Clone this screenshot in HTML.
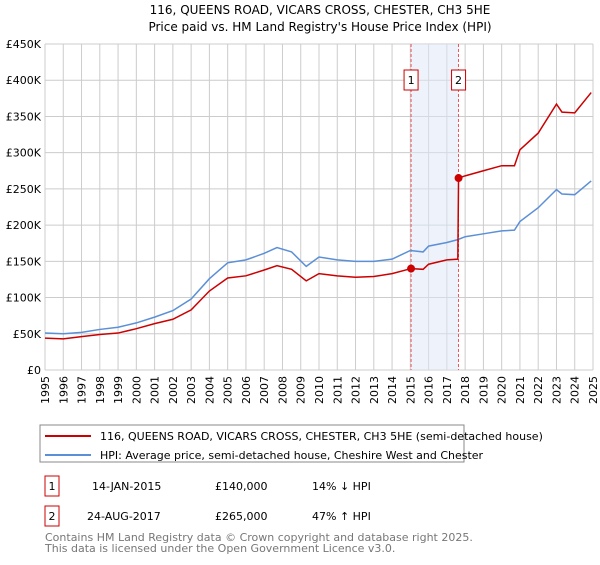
<!DOCTYPE html>
<html><head><meta charset="utf-8"><style>
body{margin:0;background:#fff;font-family:"Liberation Sans","DejaVu Sans",sans-serif}
svg text{font-family:"DejaVu Sans","Liberation Sans",sans-serif}
</style></head><body>
<svg id="c" width="600" height="560" xmlns="http://www.w3.org/2000/svg">
<text x="320" y="14" text-anchor="middle" font-size="12" fill="#000">116, QUEENS ROAD, VICARS CROSS, CHESTER, CH3 5HE</text>
<text x="320" y="31" text-anchor="middle" font-size="12" fill="#000">Price paid vs. HM Land Registry's House Price Index (HPI)</text>
<g id="grid"></g><g id="marks"></g><g id="axes"></g>
<rect x="40" y="425" width="424" height="37" fill="#fff" stroke="#888"/>
<line x1="45" y1="436" x2="91" y2="436" stroke="#cc0000" stroke-width="2"/>
<text x="100" y="440" font-size="11">116, QUEENS ROAD, VICARS CROSS, CHESTER, CH3 5HE (semi-detached house)</text>
<line x1="45" y1="455" x2="91" y2="455" stroke="#5b8fd6" stroke-width="2"/>
<text x="100" y="459" font-size="11">HPI: Average price, semi-detached house, Cheshire West and Chester</text>
<rect x="45" y="476" width="14" height="20" fill="#fff" stroke="#cc0000"/>
<text x="52" y="490" font-size="11" text-anchor="middle">1</text>
<text x="92" y="490" font-size="11">14-JAN-2015</text>
<text x="215" y="490" font-size="11">£140,000</text>
<text x="312" y="490" font-size="11">14% ↓ HPI</text>
<rect x="45" y="506" width="14" height="20" fill="#fff" stroke="#cc0000"/>
<text x="52" y="520" font-size="11" text-anchor="middle">2</text>
<text x="87" y="520" font-size="11">24-AUG-2017</text>
<text x="215" y="520" font-size="11">£265,000</text>
<text x="312" y="520" font-size="11">47% ↑ HPI</text>
<text x="45" y="541" font-size="11" fill="#777">Contains HM Land Registry data © Crown copyright and database right 2025.</text>
<text x="45" y="552" font-size="11" fill="#777">This data is licensed under the Open Government Licence v3.0.</text>
</svg>
<script>
const hpiYears=[1995,1996,1997,1998,1999,2000,2001,2002,2003,2004,2005,2006,2007,2007.7,2008.5,2009.3,2010,2011,2012,2013,2014,2015,2015.7,2016,2017,2017.6,2018,2019,2020,2020.7,2021,2022,2023,2023.3,2024,2024.9];
const hpiValues=[51,50,52,56,59,65,73,82,98,126,148,152,161,169,163,143,156,152,150,150,153,165,163,171,176,180,184,188,192,193,205,224,249,243,242,261];
const propYears=[1995,1996,1997,1998,1999,2000,2001,2002,2003,2004,2005,2006,2007,2007.7,2008.5,2009.3,2010,2011,2012,2013,2014,2015.04,2015.7,2016,2017,2017.6,2017.64,2018,2019,2020,2020.7,2021,2022,2023,2023.3,2024,2024.9];
const propValues=[44,43,46,49,51,57,64,70,83,109,127,130,138,144,139,123,133,130,128,129,133,140,139,146,152,153,265,268,275,282,282,304,327,367,356,355,383];
const saleYears=[2015.04,2017.64];
const saleValues=[140,265];
const saleLabels=["1","2"];
const yTicks=[0,50,100,150,200,250,300,350,400,450];
const yTickLabels=["£0","£50K","£100K","£150K","£200K","£250K","£300K","£350K","£400K","£450K"];
const xTicks=[1995,1996,1997,1998,1999,2000,2001,2002,2003,2004,2005,2006,2007,2008,2009,2010,2011,2012,2013,2014,2015,2016,2017,2018,2019,2020,2021,2022,2023,2024,2025];
const NS="http://www.w3.org/2000/svg";
const X0=45,X1=593,Y0=370,Y1=44;
const xs=v=>X0+(v-1995)/30*(X1-X0);
const ys=v=>Y0-(v/450)*(Y0-Y1);
function mk(t,a,p){const e=document.createElementNS(NS,t);for(const k in a)e.setAttribute(k,a[k]);p.appendChild(e);return e;}
const grid=document.getElementById('grid'),marks=document.getElementById('marks'),axes=document.getElementById('axes');
yTicks.forEach((v,i)=>{
 const l=mk('line',{x1:X0,x2:X1,y1:ys(v),y2:ys(v),stroke:'#ccc'},grid);
 
 
 const t=mk('text',{x:X0-4,y:ys(v)+4,'text-anchor':'end','font-size':11},axes);
 t.textContent=yTickLabels[i];
 
 
});
xTicks.forEach(v=>{
 const l=mk('line',{x1:xs(v),x2:xs(v),y1:Y1,y2:Y0,stroke:'#ccc'},grid);
 
 
 const t=mk('text',{x:0,y:0,'text-anchor':'end','font-size':11,transform:`translate(${xs(v)+4},${Y0+6}) rotate(-90)`},axes);
 t.textContent=v;
 
 
});
const sh=mk('rect',{x:xs(saleYears[0]),y:Y1,width:xs(saleYears[1])-xs(saleYears[0]),height:Y0-Y1,fill:'#dde8f8','fill-opacity':0.5},grid);


saleYears.forEach((v,i)=>{
 const l=mk('line',{x1:xs(v),x2:xs(v),y1:Y1,y2:Y0,stroke:'#e33','stroke-dasharray':'3,2','stroke-width':0.8},grid);
 
 
 const r=mk('rect',{x:xs(v)-7,y:70,width:14,height:20,fill:'#fff',stroke:'#cc0000'},axes);
 
 
 const t=mk('text',{x:xs(v),y:84,'text-anchor':'middle','font-size':11},axes);
 t.textContent=saleLabels[i];
 
 
});
const hp=mk('polyline',{points:hpiYears.map((y,i)=>xs(y)+','+ys(hpiValues[i])).join(' '),fill:'none',stroke:'#5b8fd6','stroke-width':1.5},marks);


const pp=mk('polyline',{points:propYears.map((y,i)=>xs(y)+','+ys(propValues[i])).join(' '),fill:'none',stroke:'#cc0000','stroke-width':1.5},marks);


saleYears.forEach((v,i)=>{
 const d=mk('circle',{cx:xs(v),cy:ys(saleValues[i]),r:4,fill:'#cc0000'},marks);
 
 
});
</script>
</body></html>
